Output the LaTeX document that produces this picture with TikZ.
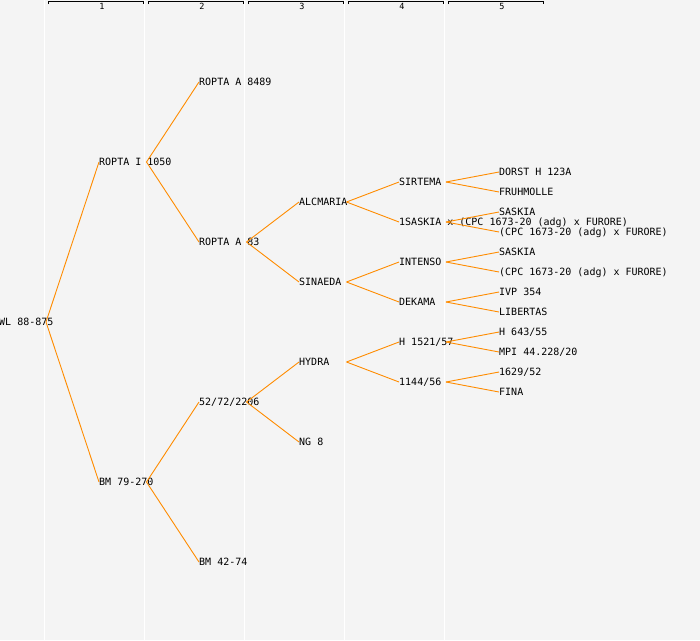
\documentclass[tikz,border=0pt]{standalone}
\usepackage{fontspec}
\setmonofont{DejaVu Sans Mono}
\definecolor{bgc}{HTML}{F4F4F4}
\definecolor{lnc}{HTML}{FF8C00}
\begin{document}
\begin{tikzpicture}[x=1pt,y=-1pt,
  lbl/.style={anchor=west,inner sep=0pt,font=\ttfamily\fontsize{10}{10}\selectfont,text height=7pt,text depth=0pt},
  hdr/.style={inner sep=0pt,font=\ttfamily\fontsize{8.5}{8.5}\selectfont},
  conn/.style={draw=lnc,line width=0.9pt},
  sep/.style={draw=white,line width=1.2pt},
  brk/.style={draw=black,line width=0.9pt}]
\useasboundingbox (0,0) rectangle (700,640);
\fill[bgc] (0,0) rectangle (700,640);
% column separators
\foreach \c in {0,1,2,3,4} {
  \draw[sep] (44.5+100*\c,0) -- (44.5+100*\c,640);
}
% column headers
\foreach \c/\t in {0/1,1/2,2/3,3/4,4/5} {
  \draw[brk] (48+100*\c,4.2) -- (48+100*\c,1.5) -- (143+100*\c,1.5) -- (143+100*\c,4.2);
  \node[hdr] (h\t) at (102+100*\c,6.8) {\t};
}
% level 0
\node[lbl] (n) at (-1,322) {WL 88-875};
\coordinate (n-o) at (46,322);
% level 1
\node[lbl] (a) at (99,162) {ROPTA I 1050};
\node[lbl] (b) at (99,482) {BM 79-270};
\coordinate (a-o) at (146.5,162);
\coordinate (b-o) at (146.5,482);
% level 2
\node[lbl] (aa) at (199,82) {ROPTA A 8489};
\node[lbl] (ab) at (199,242) {ROPTA A 83};
\node[lbl] (ba) at (199,402) {52/72/2206};
\node[lbl] (bb) at (199,562) {BM 42-74};
\coordinate (ab-o) at (246.5,242);
\coordinate (ba-o) at (246.5,402);
% level 3
\node[lbl] (aba) at (299,202) {ALCMARIA};
\node[lbl] (abb) at (299,282) {SINAEDA};
\node[lbl] (baa) at (299,362) {HYDRA};
\node[lbl] (bab) at (299,442) {NG 8};
\coordinate (aba-o) at (346.5,202);
\coordinate (abb-o) at (346.5,282);
\coordinate (baa-o) at (346.5,362);
% level 4
\node[lbl] (abaa) at (399,182) {SIRTEMA};
\node[lbl] (abab) at (399,222) {1SASKIA x (CPC 1673-20 (adg) x FURORE)};
\node[lbl] (abba) at (399,262) {INTENSO};
\node[lbl] (abbb) at (399,302) {DEKAMA};
\node[lbl] (baaa) at (399,342) {H 1521/57};
\node[lbl] (baab) at (399,382) {1144/56};
\coordinate (abaa-o) at (446,182);
\coordinate (abab-o) at (446,222);
\coordinate (abba-o) at (446,262);
\coordinate (abbb-o) at (446,302);
\coordinate (baaa-o) at (446,342);
\coordinate (baab-o) at (446,382);
% level 5
\node[lbl] (abaaa) at (499,172) {DORST H 123A};
\node[lbl] (abaab) at (499,192) {FRUHMOLLE};
\node[lbl] (ababa) at (499,212) {SASKIA};
\node[lbl] (ababb) at (499,232) {(CPC 1673-20 (adg) x FURORE)};
\node[lbl] (abbaa) at (499,252) {SASKIA};
\node[lbl] (abbab) at (499,272) {(CPC 1673-20 (adg) x FURORE)};
\node[lbl] (abbba) at (499,292) {IVP 354};
\node[lbl] (abbbb) at (499,312) {LIBERTAS};
\node[lbl] (baaaa) at (499,332) {H 643/55};
\node[lbl] (baaab) at (499,352) {MPI 44.228/20};
\node[lbl] (baaba) at (499,372) {1629/52};
\node[lbl] (baabb) at (499,392) {FINA};
% connectors
\foreach \p/\c in {n/a,n/b,a/aa,a/ab,b/ba,b/bb,ab/aba,ab/abb,ba/baa,ba/bab,
  aba/abaa,aba/abab,abb/abba,abb/abbb,baa/baaa,baa/baab,
  abaa/abaaa,abaa/abaab,abab/ababa,abab/ababb,abba/abbaa,abba/abbab,
  abbb/abbba,abbb/abbbb,baaa/baaaa,baaa/baaab,baab/baaba,baab/baabb} {
  \draw[conn] (\p-o) -- (\c.west);
}
\end{tikzpicture}
\end{document}
